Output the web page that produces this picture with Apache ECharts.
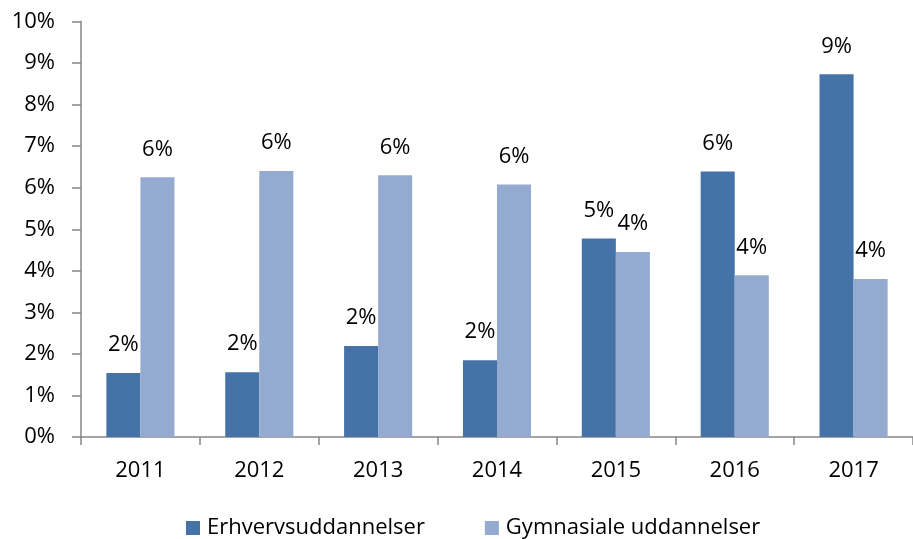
<!DOCTYPE html>
<html><head><meta charset="utf-8">
<script src="https://cdn.jsdelivr.net/npm/echarts@6/dist/echarts.min.js"></script>
<style>html,body{margin:0;padding:0;background:#fff}#c{width:913px;height:539px}</style>
</head><body><div id="c"></div>
<script>
const categories = ['2011','2012','2013','2014','2015','2016','2017'];
const erhverv = [1.54, 1.56, 2.19, 1.85, 4.78, 6.39, 8.73];
const gymnasiale = [6.25, 6.40, 6.30, 6.08, 4.45, 3.89, 3.80];
const seriesNames = ['Erhvervsuddannelser', 'Gymnasiale uddannelser'];
const FONT = 'Open Sans';
const FS = 22;
const chart = echarts.init(document.getElementById('c'));
const lbl = {show:true, position:'top', distance:17, color:'#000', fontFamily:FONT, fontSize:FS,
  formatter: p => Math.round(p.value) + '%'};
chart.setOption({
  animation:false,
  textStyle:{fontFamily:FONT},
  grid:{left:81, right:-11, top:21.5, bottom:102, containLabel:false},
  legend:{top:512, left:181, itemWidth:14, itemHeight:14, itemGap:60,
    icon:'rect', textStyle:{fontSize:FS, color:'#000', fontFamily:FONT, padding:[0,0,0,2]}, data:seriesNames},
  xAxis:{type:'category', data:categories,
    axisLine:{lineStyle:{color:'#868686', width:1.5}},
    axisTick:{show:true, length:8, lineStyle:{color:'#868686', width:1.5}},
    axisLabel:{color:'#000', fontSize:FS, margin:23, fontFamily:FONT}},
  yAxis:{type:'value', min:0, max:10, interval:1,
    axisLine:{show:true, lineStyle:{color:'#868686', width:1.5}},
    axisTick:{show:true, length:9, lineStyle:{color:'#868686', width:1.5}},
    splitLine:{show:false},
    axisLabel:{color:'#000', fontSize:FS, margin:26, fontFamily:FONT, formatter:'{value}%'}},
  series:[
    {name:seriesNames[0], type:'bar', data:erhverv, barGap:'0%', barCategoryGap:'42.7%',
      itemStyle:{color:'#4673A7'}, label:lbl},
    {name:seriesNames[1], type:'bar', data:gymnasiale, barGap:'0%', barCategoryGap:'42.7%',
      itemStyle:{color:'#94AAD0'}, label:lbl}
  ]
});
</script></body></html>
